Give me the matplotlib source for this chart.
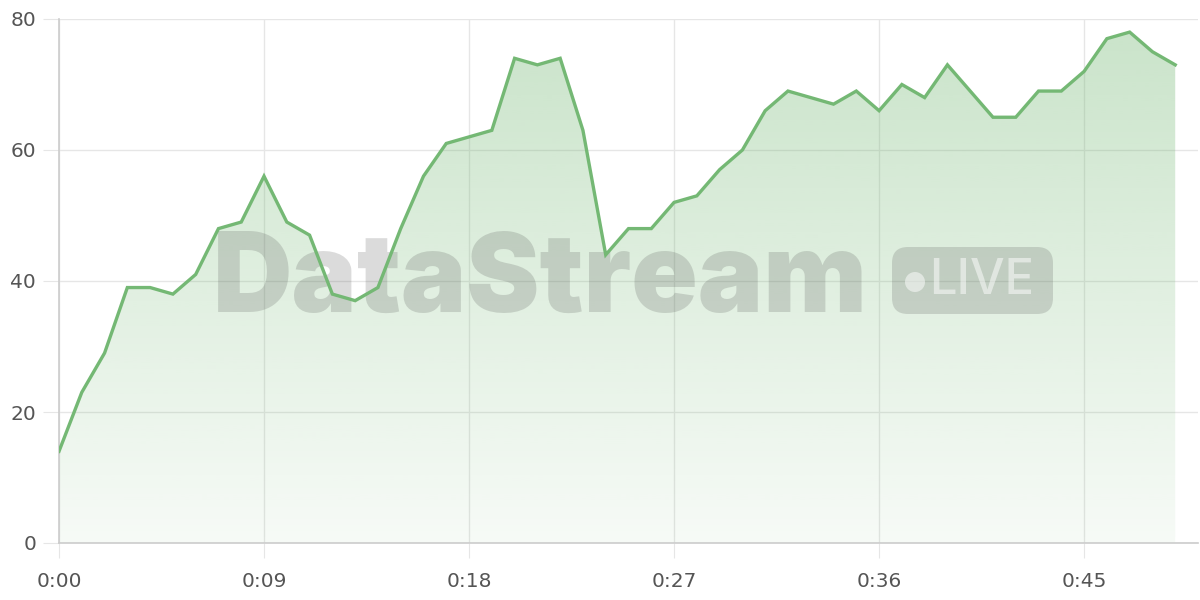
import matplotlib
matplotlib.use("Agg")
import matplotlib.pyplot as plt
import numpy as np
from matplotlib.patches import FancyBboxPatch, Circle
from matplotlib.colors import to_rgb
from matplotlib.transforms import Affine2D

seconds = list(range(50))
values = [14, 23, 29, 39, 39, 38, 41, 48, 49, 56,
          49, 47, 38, 37, 39, 48, 56, 61, 62, 63,
          74, 73, 74, 63, 44, 48, 48, 52, 53, 57,
          60, 66, 69, 68, 67, 69, 66, 70, 68, 73,
          69, 65, 65, 69, 69, 72, 77, 78, 75, 73]
xticks = [0, 9, 18, 27, 36, 45]
xtick_labels = ["0:00", "0:09", "0:18", "0:27", "0:36", "0:45"]
yticks = [0, 20, 40, 60, 80]

line_color = "#74b874"
grid_color = "#e6e6e6"
text_color = "#555555"
font = "DejaVu Sans"

fig = plt.figure(figsize=(12, 6), dpi=100)
ax = fig.add_axes([59/1200, 57/600, (1198-59)/1200, (543-19)/600])
ax.set_xlim(0, 50)
ax.set_ylim(0, 80)

# gradient fill
x = np.array(seconds)
y = np.array(values)
poly = ax.fill_between(x, y, 0, color="none", lw=0)
r, g, b = to_rgb(line_color)
grad = np.zeros((256, 1, 4))
alphas = np.linspace(0.06, 0.38, 256)
grad[:, 0, 0] = r; grad[:, 0, 1] = g; grad[:, 0, 2] = b
grad[:, 0, 3] = alphas
im = ax.imshow(grad, aspect="auto", origin="lower",
               extent=[x.min(), x.max(), 0, y.max()], zorder=1)
path = poly.get_paths()[0]
im.set_clip_path(path, transform=ax.transData)

ax.plot(x, y, color=line_color, lw=2.4, zorder=5, solid_joinstyle="miter")

ax.set_xticks(xticks)
ax.set_xticklabels(xtick_labels)
ax.set_yticks(yticks)
ax.grid(True, color=grid_color, lw=1, zorder=0)
ax.set_axisbelow(True)
for s in ["top", "right"]:
    ax.spines[s].set_visible(False)
for s in ["left", "bottom"]:
    ax.spines[s].set_color("#cccccc")
    ax.spines[s].set_linewidth(1.2)
ax.tick_params(axis="y", length=11.5, color=grid_color, pad=5, labelsize=14.5, labelcolor=text_color)
ax.tick_params(axis="x", length=11, color=grid_color, pad=10, labelsize=14.5, labelcolor=text_color)
for lab in ax.get_xticklabels() + ax.get_yticklabels():
    lab.set_fontfamily(font)

# watermark (pixel coordinates, y from top)
px = Affine2D().scale(1, -1).translate(0, 600)
wm_col = (0.3, 0.3, 0.3, 0.2)
wm = ax.text(213, 312, "DataStream", fontsize=82, fontweight=900,
             family="Inter", color=wm_col, ha="left", va="baseline",
             transform=px, zorder=3, clip_on=False)
box = FancyBboxPatch((892, 247), 1053-892, 314-247,
                     boxstyle="round,pad=0,rounding_size=16",
                     transform=px, facecolor=wm_col, edgecolor="none", zorder=3, clip_on=False)
ax.add_patch(box)
circ = Circle((915, 282), 10, transform=px,
              facecolor=(1, 1, 1, 0.5), edgecolor="none", zorder=4, clip_on=False)
ax.add_patch(circ)
live = ax.text(929, 294, "LIVE", fontsize=29, fontweight=500, family="Inter",
               color=(1, 1, 1, 0.5), ha="left", va="baseline", transform=px, zorder=4, clip_on=False)

fig.canvas.draw()
rend = fig.canvas.get_renderer()
bb = wm.get_window_extent(rend)
wm.set_fontsize(82 * 655 / bb.width)
bb = live.get_window_extent(rend)
live.set_fontsize(29 * 105 / bb.width)

fig.savefig("out.png", dpi=100)
